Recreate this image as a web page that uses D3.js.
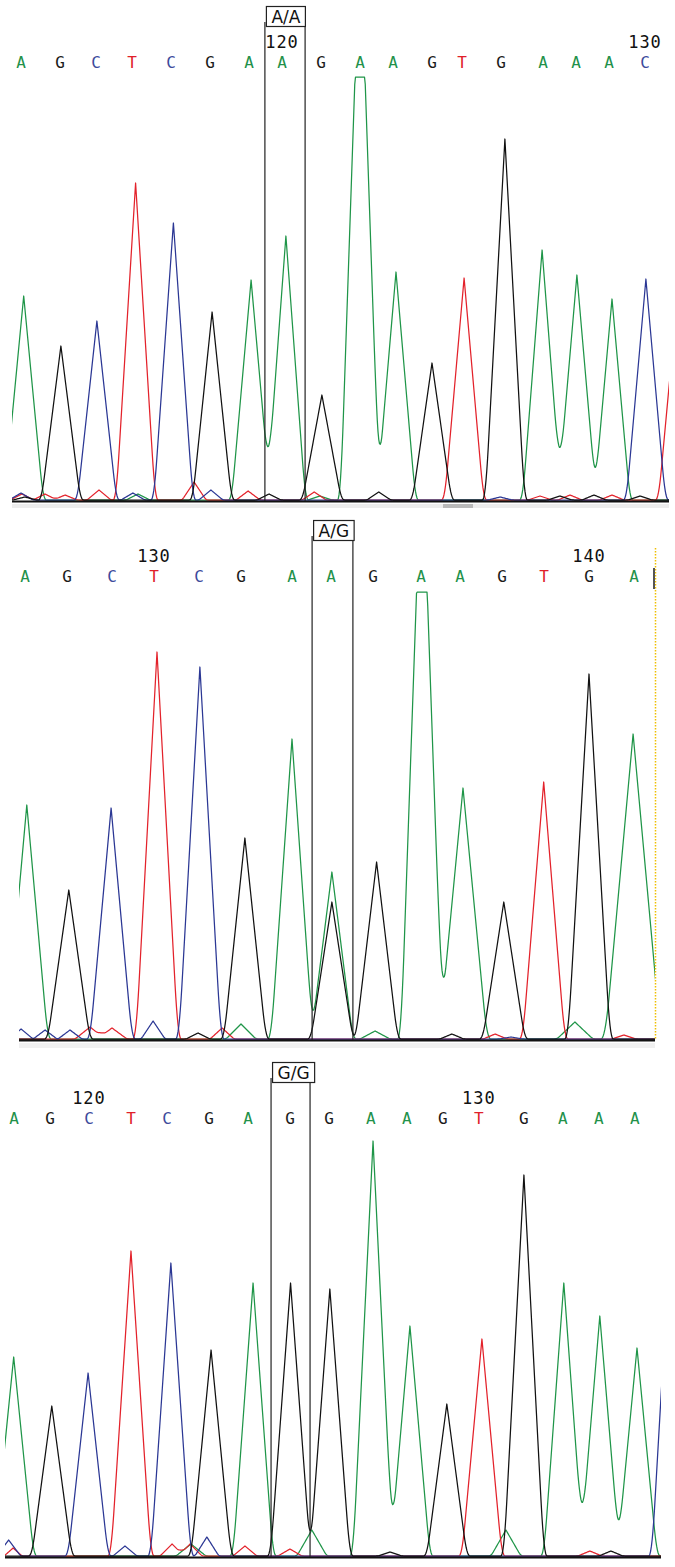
<!DOCTYPE html>
<html>
<head>
<meta charset="utf-8">
<script src="https://cdn.jsdelivr.net/npm/d3@7"></script>
<style>
  html, body { margin: 0; padding: 0; background: #fff; }
  svg { display: block; }
</style>
</head>
<body>
<svg width="675" height="1567"></svg>
<script>
// ---- panel 1 (A/A) ----
const bases1 = ["A","G","C","T","C","G","A","A","G","A","A","G","T","G","A","A","A","C"];
const baseScans1 = [1483, 1496, 1508, 1520, 1533, 1546, 1559, 1570, 1583, 1596, 1607, 1620, 1630, 1643, 1657, 1668, 1679, 1691];
const firstBase1 = 113;
const genotype1 = "A/A";
const snpScans1 = [1564.3, 1577.7];
const scanRange1 = [1480, 1699];
const rfuMax1 = 2115;
// peaks: [scan, height, half width (optional)]
const peaksA1 = [[1483.9,1020],[1522.0,30,4],[1559.7,1100],[1571.3,1320],[1582.7,20,4],[1596.0,2845],[1608.0,1140],[1656.7,1250],[1668.3,1125],[1680.0,1005,6]];
const peaksC1 = [[1483.0,35,4],[1508.3,895],[1520.3,35,4],[1533.8,1385],[1546.3,50,4],[1642.7,15,4],[1691.3,1105]];
const peaksG1 = [[1484.3,15,4],[1496.3,770],[1546.7,940],[1565.7,30,4],[1583.3,525],[1602.3,40,4],[1620.0,685],[1644.3,1805],[1662.7,20,4],[1674.0,25,4],[1689.3,20,4]];
const peaksT1 = [[1483.3,30,4],[1491.0,30,4],[1497.7,25,4],[1509.0,50,4],[1521.2,1585],[1540.7,90,4],[1558.7,45,4],[1580.7,40,4],[1630.7,1110],[1656.0,20,4],[1666.0,25,4],[1680.0,25,4],[1702.0,1050]];

// ---- panel 2 (A/G) ----
const bases2 = ["A","G","C","T","C","G","A","A","G","A","A","G","T","G","A"];
const baseScans2 = [2112, 2126, 2141, 2155, 2170, 2184, 2201, 2214, 2228, 2244, 2257, 2271, 2285, 2300, 2315];
const firstBase2 = 127;
const genotype2 = "A/G";
const snpScans2 = [2207.7, 2221.3];
const scanRange2 = [2110, 2322];
const rfuMax2 = 2235;
const peaksA2 = [[2112.6,1170],[2184.0,75,5],[2201.0,1500],[2214.3,835],[2228.7,40,5],[2244.3,3000],[2258.0,1255,8],[2295.3,85,6],[2314.7,1525,9.3]];
const peaksC2 = [[2110.7,50,4],[2118.7,45,4],[2127.0,45,4],[2140.7,1155],[2154.7,90,4],[2170.3,1860],[2274.0,10,4]];
const peaksG2 = [[2126.6,745],[2169.7,30,4],[2185.3,1005],[2214.3,685],[2229.2,885],[2254.3,25,4],[2271.6,685],[2300.0,1825]];
const peaksT2 = [[2133.7,60,5],[2141.0,55,5],[2156.0,1935],[2177.7,55,4],[2268.7,25,4],[2284.9,1285],[2311.7,20,4]];

// ---- panel 3 (G/G) ----
const bases3 = ["A","G","C","T","C","G","A","G","G","A","A","G","T","G","A","A","A"];
const baseScans3 = [1463, 1475, 1488, 1502, 1514, 1528, 1541, 1555, 1568, 1582, 1594, 1606, 1618, 1633, 1646, 1658, 1670];
const firstBase3 = 118;
const genotype3 = "G/G";
const snpScans3 = [1548.7, 1561.7];
const scanRange3 = [1460, 1678.7];
const rfuMax3 = 2180;
const peaksA3 = [[1462.9,995],[1522.0,60,5],[1542.7,1365],[1562.3,130,5],[1582.7,2075],[1595.0,1150],[1627.0,130,5],[1646.3,1365],[1658.3,1200],[1670.7,1040]];
const peaksC3 = [[1461.2,80,4],[1487.7,915],[1500.0,50,4],[1515.3,1465],[1527.3,95,4],[1682.3,1730]];
const peaksG3 = [[1475.6,750],[1528.7,1030],[1555.2,1365],[1568.3,1335],[1588.3,20,4],[1607.3,760],[1633.0,1905],[1662.0,25,4]];
const peaksT3 = [[1462.7,40,3],[1502.0,1525],[1515.7,60,4],[1521.7,60,4],[1540.0,50,4],[1555.0,35,4],[1619.0,1085],[1655.0,25,4]];

const traceColor = {A: "#1f9548", C: "#2b3794", G: "#111111", T: "#e3222b"};
const letterColor = {A: "#22914a", C: "#3d4a9c", G: "#1a1a1a", T: "#e0202a"};

const panels = [
  {bases: bases1, baseScans: baseScans1, firstBase: firstBase1, genotype: genotype1, snp: snpScans1,
   scanRange: scanRange1, rfuMax: rfuMax1, peaks: {A: peaksA1, C: peaksC1, G: peaksG1, T: peaksT1},
   peakWidth: 6.5, top: 6, x0: 12, x1: 669, zeroY: 500, ceilY: 77},
  {bases: bases2, baseScans: baseScans2, firstBase: firstBase2, genotype: genotype2, snp: snpScans2,
   scanRange: scanRange2, rfuMax: rfuMax2, peaks: {A: peaksA2, C: peaksC2, G: peaksG2, T: peaksT2},
   peakWidth: 7, top: 520, x0: 19, x1: 655, zeroY: 1039, ceilY: 592},
  {bases: bases3, baseScans: baseScans3, firstBase: firstBase3, genotype: genotype3, snp: snpScans3,
   scanRange: scanRange3, rfuMax: rfuMax3, peaks: {A: peaksA3, C: peaksC3, G: peaksG3, T: peaksT3},
   peakWidth: 6.67, top: 1062, x0: 5, x1: 661, zeroY: 1556, ceilY: 1120}
];

const svg = d3.select("svg");

// smoothed triangle peak profile, u = distance / half width
const profile = u => {
  if (u <= 0.85) return 1 - u;
  if (u < 1.15) return (1.15 - u) * (1.15 - u) / 0.6;
  return 0;
};

panels.forEach((p, pi) => {
  const g = svg.append("g");
  const x = d3.scaleLinear().domain(p.scanRange).range([p.x0, p.x1]);
  const y = d3.scaleLinear().domain([0, p.rfuMax]).range([p.zeroY, p.ceilY]).clamp(true);

  const clipId = "clip" + pi;
  g.append("clipPath").attr("id", clipId)
    .append("rect")
    .attr("x", p.x0).attr("y", p.ceilY - 2)
    .attr("width", p.x1 - p.x0).attr("height", p.zeroY - p.ceilY + 3);

  // sample the traces
  const grid = d3.range(p.scanRange[0] - 2, p.scanRange[1] + 2, 0.25);
  const line = d3.line().x(d => x(d[0])).y(d => y(d[1]));

  ["A", "T", "C", "G"].forEach(b => {
    const peaks = p.peaks[b];
    const scans = Array.from(new Set(grid.concat(peaks.map(k => k[0])))).sort((a, c) => a - c);
    const values = scans.map(s => [s, d3.sum(peaks, k => k[1] * profile(Math.abs(s - k[0]) / (k[2] || p.peakWidth)))]);
    g.append("path")
      .attr("clip-path", `url(#${clipId})`)
      .attr("d", line(values))
      .attr("fill", "none")
      .attr("stroke", traceColor[b])
      .attr("stroke-width", 1.25)
      .attr("stroke-linejoin", "round");
  });

  // baseline axis
  g.append("line")
    .attr("x1", p.x0).attr("x2", p.x1)
    .attr("y1", p.zeroY + 1.5).attr("y2", p.zeroY + 1.5)
    .attr("stroke", "#111").attr("stroke-width", 2);

  // base calls
  g.selectAll("text.base").data(p.bases).enter().append("text")
    .attr("class", "base")
    .attr("x", (d, i) => x(p.baseScans[i]))
    .attr("y", p.top + 62)
    .attr("text-anchor", "middle")
    .attr("font-family", "DejaVu Sans Mono, monospace")
    .attr("font-size", 16)
    .attr("fill", d => letterColor[d])
    .text(d => d);

  // base numbers every 10
  const numbered = p.bases.map((d, i) => i).filter(i => (p.firstBase + i) % 10 === 0);
  g.selectAll("text.num").data(numbered).enter().append("text")
    .attr("class", "num")
    .attr("x", i => x(p.baseScans[i]))
    .attr("y", p.top + 42)
    .attr("text-anchor", "middle")
    .attr("font-family", "DejaVu Sans Mono, monospace")
    .attr("font-size", 17)
    .attr("letter-spacing", 1)
    .attr("fill", "#111")
    .text(i => p.firstBase + i);

  // genotype box
  const xl = x(p.snp[0]), xr = x(p.snp[1]);
  g.append("line").attr("x1", xl).attr("x2", xl)
    .attr("y1", p.top + 16).attr("y2", p.zeroY + 1)
    .attr("stroke", "#222").attr("stroke-width", 1.2);
  g.append("line").attr("x1", xr).attr("x2", xr)
    .attr("y1", p.top + 20).attr("y2", p.zeroY + 1)
    .attr("stroke", "#222").attr("stroke-width", 1.2);
  const label = g.append("text")
    .attr("y", p.top + 17)
    .attr("font-family", "DejaVu Sans, sans-serif")
    .attr("font-size", 17)
    .attr("fill", "#111")
    .text(p.genotype);
  const tw = label.node().getComputedTextLength();
  g.insert("rect", "text:last-child")
    .attr("x", xl + 1.5).attr("y", p.top + 0.5)
    .attr("width", tw + 10).attr("height", 20)
    .attr("fill", "#fff").attr("stroke", "#222").attr("stroke-width", 1.2);
  label.attr("x", xl + 6.5);
  label.raise();
});

// viewer chrome: scroll band under panel 1, cursor + marker in panel 2
const p1 = panels[0], p2 = panels[1];
svg.append("rect").attr("x", p1.x0).attr("y", p1.zeroY + 4)
  .attr("width", p1.x1 - p1.x0).attr("height", 4).attr("fill", "#ececec");
svg.append("rect").attr("x", 443).attr("y", p1.zeroY + 4)
  .attr("width", 30).attr("height", 4).attr("fill", "#b9b9b9");
svg.append("rect").attr("x", p2.x0).attr("y", p2.zeroY + 4)
  .attr("width", p2.x1 - p2.x0).attr("height", 5).attr("fill", "#f0f0f0");
svg.append("line").attr("x1", p2.x1 + 0.5).attr("x2", p2.x1 + 0.5)
  .attr("y1", p2.top + 28).attr("y2", p2.zeroY)
  .attr("stroke", "#f0c000").attr("stroke-width", 1.5).attr("stroke-dasharray", "1.5,1.5");
svg.append("line").attr("x1", p2.x1 - 1).attr("x2", p2.x1 - 1)
  .attr("y1", p2.top + 48).attr("y2", p2.top + 69)
  .attr("stroke", "#555").attr("stroke-width", 2);
</script>
</body>
</html>
